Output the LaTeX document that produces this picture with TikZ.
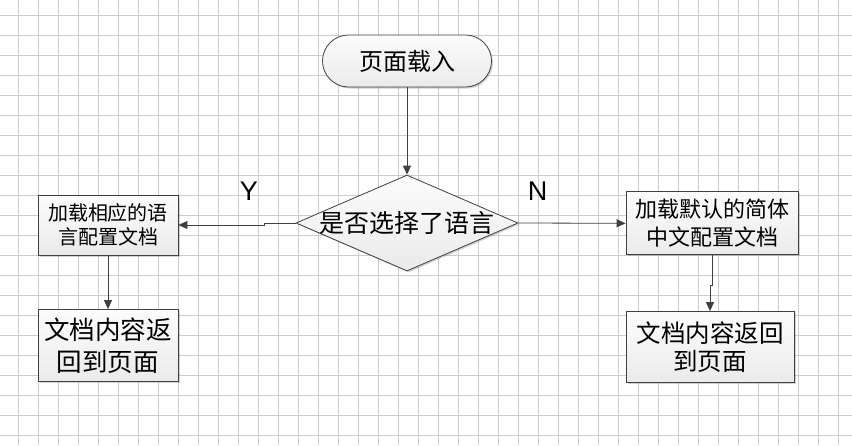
\documentclass[tikz,border=0pt]{standalone}
\usepackage{fontspec}
\newfontfamily\cjk{Noto Sans CJK SC}
\newfontfamily\latin{Liberation Sans}
\usetikzlibrary{shapes.geometric,shapes.misc,arrows.meta,shadows}

\begin{document}
\begin{tikzpicture}[x=1pt, y=-1pt,
  gridline/.style={draw=black!20, line width=0.7pt},
  flowbox/.style={draw=black!75, line width=0.8pt, top color=gray!2, bottom color=gray!16,
    drop shadow={shadow xshift=1.5pt, shadow yshift=-1.5pt, fill=gray, opacity=.35},
    align=center, inner sep=0pt, font=\cjk},
  startbox/.style={flowbox, rounded rectangle, minimum width=169pt, minimum height=52pt},
  askbox/.style={flowbox, diamond, aspect=2.31, inner sep=-2pt, minimum width=222pt, minimum height=96pt},
  stepbox/.style={flowbox, rectangle},
  arr/.style={draw=black!75, line width=0.8pt, -{Triangle[length=9pt,width=8pt]}},
  yn/.style={font=\latin\fontsize{27}{27}\selectfont, text=black}]
\useasboundingbox (0,0) rectangle (852,445);
\fill[white] (0,0) rectangle (852,445);
\foreach \x in {18,38,...,838} \draw[gridline] (\x,0) -- (\x,445);
\foreach \y in {15,35,...,435} \draw[gridline] (0,\y) -- (852,\y);

\node[startbox, font=\cjk\fontsize{24}{28}\selectfont] (load) at (407,61) {页面载入};
\node[askbox, font=\cjk\fontsize{25}{28}\selectfont] (ask) at (407,223) {是否选择了语言};

\node[stepbox, minimum width=140pt, minimum height=60pt, font=\cjk\fontsize{20}{24}\selectfont]
  (langcfg) at (108,225) {加载相应的语\\言配置文档};
\node[stepbox, minimum width=140pt, minimum height=72pt, font=\cjk\fontsize{25.5}{32}\selectfont]
  (langret) at (108,345.5) {文档内容返\\回到页面};
\node[stepbox, minimum width=172pt, minimum height=63pt, font=\cjk\fontsize{22}{28}\selectfont]
  (zhcfg) at (712,223.3) {加载默认的简体\\中文配置文档};
\node[stepbox, minimum width=168pt, minimum height=71pt, font=\cjk\fontsize{24.5}{28}\selectfont]
  (zhret) at (710,347) {文档内容返回\\到页面};

\node[yn] (yes) at (249,191) {Y};
\node[yn] (no) at (537.5,191) {N};

\draw[arr] (load.south) -- (ask.north);
\draw[arr] (ask.west) -- ++(-31,0) |- (langcfg.east);
\draw[arr] (ask.east) -- (zhcfg.west);
\draw[arr] (langcfg.south) -- (langret.north);
\draw[arr] (zhcfg.south) -- ++(0,30) -| (zhret.north);
\end{tikzpicture}
\end{document}
